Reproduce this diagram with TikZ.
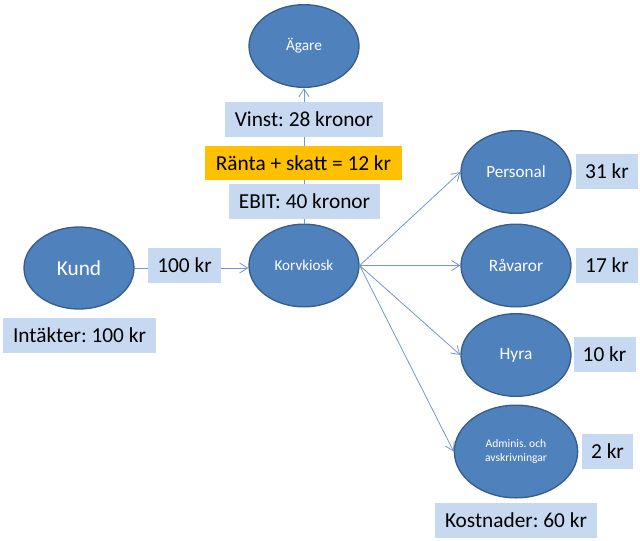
\documentclass[tikz,border=0pt]{standalone}
\usepackage{fontspec}
\usepackage{xcolor}
\usetikzlibrary{arrows.meta,shapes.geometric}
\setmainfont{Carlito}
\frenchspacing
\definecolor{ovalblue}{HTML}{4F81BD}
\definecolor{ovaledge}{HTML}{385D8A}
\definecolor{boxblue}{HTML}{C6D9F1}
\definecolor{boxorange}{HTML}{FFC000}
\definecolor{flowblue}{HTML}{6F98CB}

\begin{document}
\begin{tikzpicture}[
  x=0.75pt, y=-0.75pt,
  oval/.style={ellipse, draw=ovaledge, line width=1pt, fill=ovalblue, text=white, minimum width=82.5pt, minimum height=62pt, inner sep=0pt, align=center},
  amount/.style={rectangle, fill=boxblue, minimum height=26pt, inner sep=0pt, text=black, font=\fontsize{16}{18}\selectfont},
  flow/.style={-{Straight Barb[length=6pt,width=7.5pt]}, draw=flowblue, line width=0.6pt}
]
\useasboundingbox (0,0) rectangle (640,540);

\node[oval] (agare) at (304,46) {\fontsize{11.5}{14}\selectfont Ägare};
\node[oval] (korv) at (304,265.5) {\fontsize{11.3}{12}\selectfont Korvkiosk};
\node[oval, minimum height=61.5pt] (kund) at (79,268) {\fontsize{16}{18}\selectfont Kund};
\node[oval] (personal) at (516,172) {\fontsize{12.8}{14}\selectfont Personal};
\node[oval] (ravaror) at (516,265.5) {\fontsize{13}{14}\selectfont Råvaror};
\node[oval] (hyra) at (516,355) {\fontsize{13}{14}\selectfont Hyra};
\node[oval, minimum width=92.5pt, minimum height=69.5pt, font=\fontsize{8.7}{11}\selectfont] (admin) at (516,451.5) {Adminis. och\\avskrivningar};

\draw[flow] (korv) -- (agare);
\draw[flow] (kund.east) -- (kund.east -| korv.west);
\draw[flow] (korv.east) -- (personal.west);
\draw[flow] (korv.east) -- (ravaror.west);
\draw[flow] (korv.east) -- (hyra.west);
\draw[flow] (korv.east) -- (admin.west);

\node[amount, minimum width=118.5pt] (vinst) at (304,119.5) {Vinst: 28 kronor};
\node[amount, minimum width=147.75pt, fill=boxorange] (ranta) at (303.5,163) {Ränta + skatt = 12 kr};
\node[amount, minimum width=113.25pt] (ebit) at (304.5,201.5) {EBIT: 40 kronor};
\node[amount, minimum width=54.75pt] (inflow) at (184.5,265.5) {100 kr};
\node[amount, minimum width=114.75pt] (intakter) at (79.5,335.5) {Intäkter: 100 kr};
\node[amount, minimum width=46.5pt] (kpersonal) at (607,171.5) {31 kr};
\node[amount, minimum width=46.5pt] (kravaror) at (607,265.5) {17 kr};
\node[amount, minimum width=46.5pt] (khyra) at (604.5,354.5) {10 kr};
\node[amount, minimum width=38.25pt] (kadmin) at (607.5,451.5) {2 kr};
\node[amount, minimum width=121.5pt] (kostnader) at (516,520.5) {Kostnader: 60 kr};

\end{tikzpicture}
\end{document}
